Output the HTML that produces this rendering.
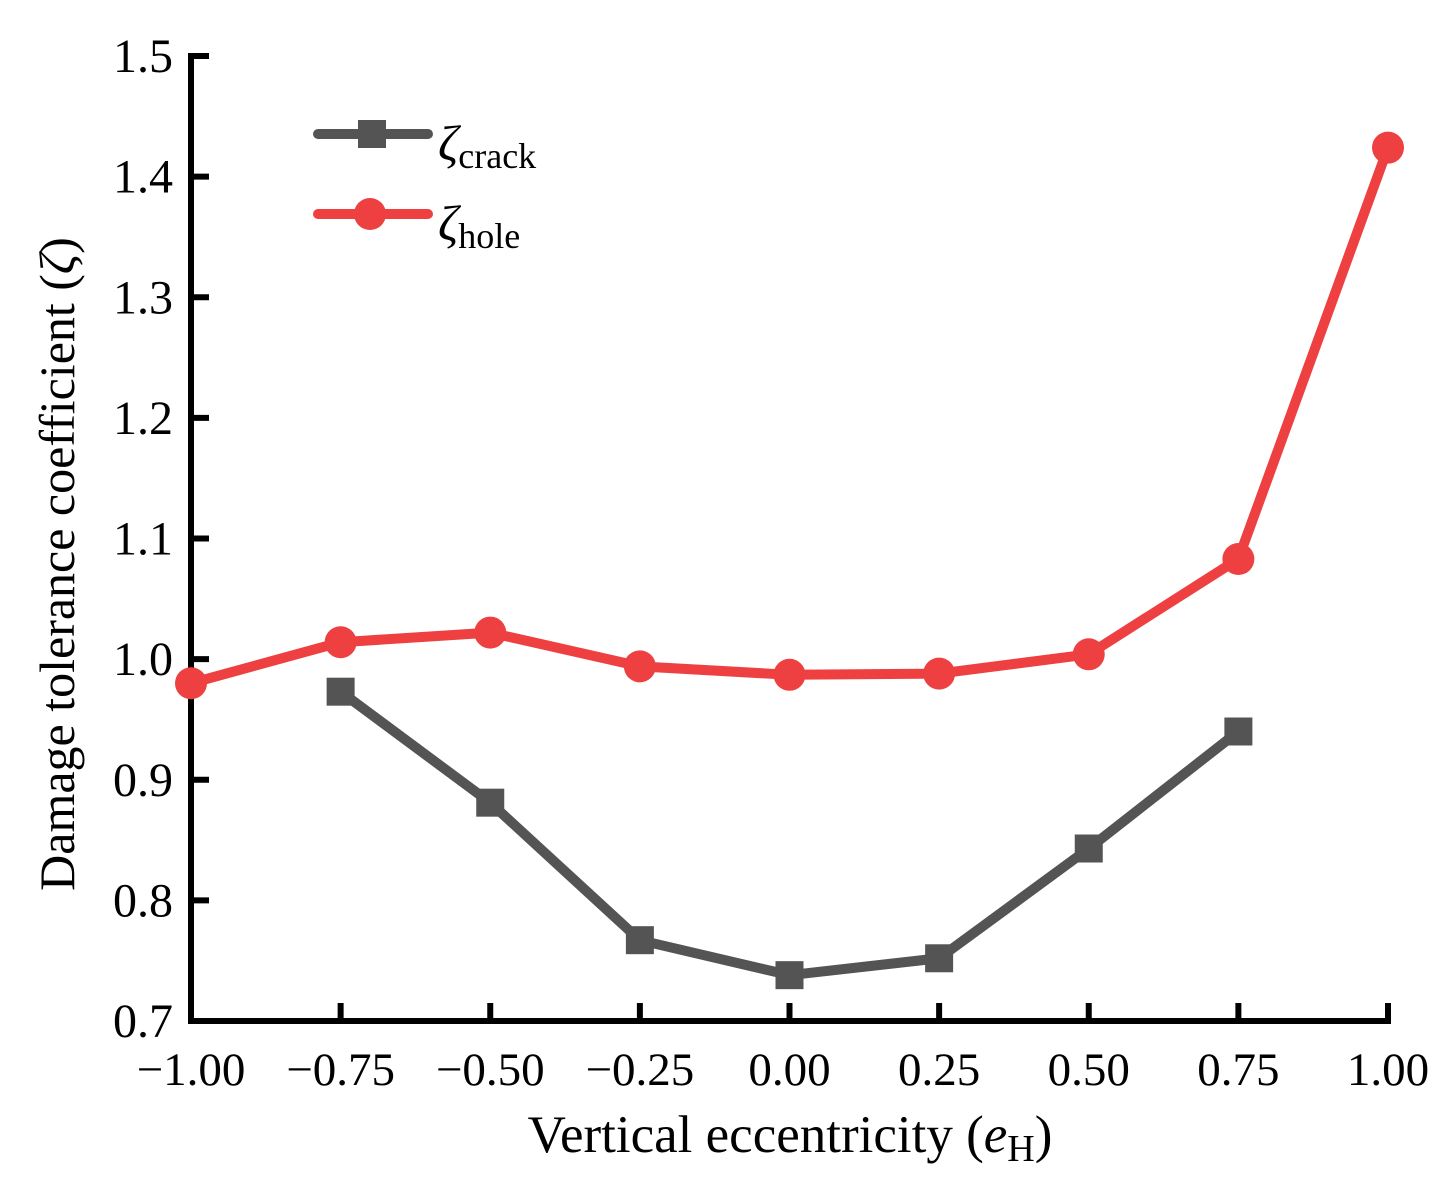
<!DOCTYPE html>
<html><head><meta charset="utf-8"><style>
body{margin:0;background:#fff}
svg text{font-family:"Liberation Serif",serif;fill:#000}
</style></head><body>
<svg id="chart" width="1449" height="1186" xmlns="http://www.w3.org/2000/svg">
<g id="axes"></g>
<g id="series"></g>
<g id="legend">
 <line x1="318" y1="134" x2="428" y2="134" stroke="#545454" stroke-width="10" stroke-linecap="round"/>
 <rect x="358" y="120" width="28" height="28" fill="#545454"/>
 <text x="438" y="160" font-size="50" font-style="italic">ζ<tspan font-size="36" font-style="normal" dy="8">crack</tspan></text>
 <line x1="318" y1="214" x2="428" y2="214" stroke="#EE4040" stroke-width="10" stroke-linecap="round"/>
 <circle cx="370" cy="214" r="16" fill="#EE4040"/>
 <text x="438" y="240" font-size="50" font-style="italic">ζ<tspan font-size="36" font-style="normal" dy="8">hole</tspan></text>
</g>
<text x="790" y="1152" font-size="53" text-anchor="middle">Vertical eccentricity (<tspan font-style="italic">e</tspan><tspan font-size="38" dy="9">H</tspan><tspan dy="-9">)</tspan></text>
<text transform="translate(74,564) rotate(-90)" font-size="50" text-anchor="middle">Damage tolerance coefficient (<tspan font-style="italic">ζ</tspan>)</text>
</svg>
<script>
const xCats=[-1,-0.75,-0.5,-0.25,0,0.25,0.5,0.75,1];
const xTickLabels=["−1.00","−0.75","−0.50","−0.25","0.00","0.25","0.50","0.75","1.00"];
const yTicks=[0.7,0.8,0.9,1.0,1.1,1.2,1.3,1.4,1.5];
const yTickLabels=["0.7","0.8","0.9","1.0","1.1","1.2","1.3","1.4","1.5"];
const holeX=[-1,-0.75,-0.5,-0.25,0,0.25,0.5,0.75,1];
const holeVals=[0.980,1.014,1.022,0.994,0.987,0.988,1.004,1.083,1.424];
const crackX=[-0.75,-0.5,-0.25,0,0.25,0.5,0.75];
const crackVals=[0.973,0.881,0.767,0.738,0.752,0.843,0.940];
const NS="http://www.w3.org/2000/svg";
const X0=191,X1=1388,Y0=1021,Y1=56;
const sx=v=>X0+(v+1)/2*(X1-X0);
const sy=v=>Y0-(v-0.7)/0.8*(Y0-Y1);
function mk(t,a,p){const e=document.createElementNS(NS,t);for(const k in a)e.setAttribute(k,a[k]);p.appendChild(e);return e;}
const ax=document.getElementById('axes'),se=document.getElementById('series');
let l=mk('line',{x1:X0,y1:Y1-3,x2:X0,y2:Y0+3,stroke:'#000','stroke-width':6},ax);


l=mk('line',{x1:X0-3,y1:Y0,x2:X1+3,y2:Y0,stroke:'#000','stroke-width':6},ax);


xCats.forEach((v,i)=>{
 const t=mk('line',{x1:sx(v),y1:Y0,x2:sx(v),y2:Y0-18,stroke:'#000','stroke-width':6},ax);
 
 
 const tx=mk('text',{x:sx(v),y:Y0+64,'font-size':47,'text-anchor':'middle'},ax);
 tx.textContent=xTickLabels[i];
 
 
});
yTicks.forEach((v,i)=>{
 const t=mk('line',{x1:X0,y1:sy(v),x2:X0+18,y2:sy(v),stroke:'#000','stroke-width':6},ax);
 
 
 const tx=mk('text',{x:X0-18,y:sy(v)+16,'font-size':48,'text-anchor':'end'},ax);
 tx.textContent=yTickLabels[i];
 
 
});
let p=mk('polyline',{points:holeX.map((x,i)=>sx(x)+','+sy(holeVals[i])).join(' '),fill:'none',stroke:'#EE4040','stroke-width':10,'stroke-linejoin':'round'},se);


p=mk('polyline',{points:crackX.map((x,i)=>sx(x)+','+sy(crackVals[i])).join(' '),fill:'none',stroke:'#545454','stroke-width':10,'stroke-linejoin':'round'},se);


holeX.forEach((x,i)=>{
 const c=mk('circle',{cx:sx(x),cy:sy(holeVals[i]),r:16,fill:'#EE4040'},se);
 
 
});
crackX.forEach((x,i)=>{
 const r=mk('rect',{x:sx(x)-14,y:sy(crackVals[i])-14,width:28,height:28,fill:'#545454'},se);
 
 
});
</script>
</body></html>
